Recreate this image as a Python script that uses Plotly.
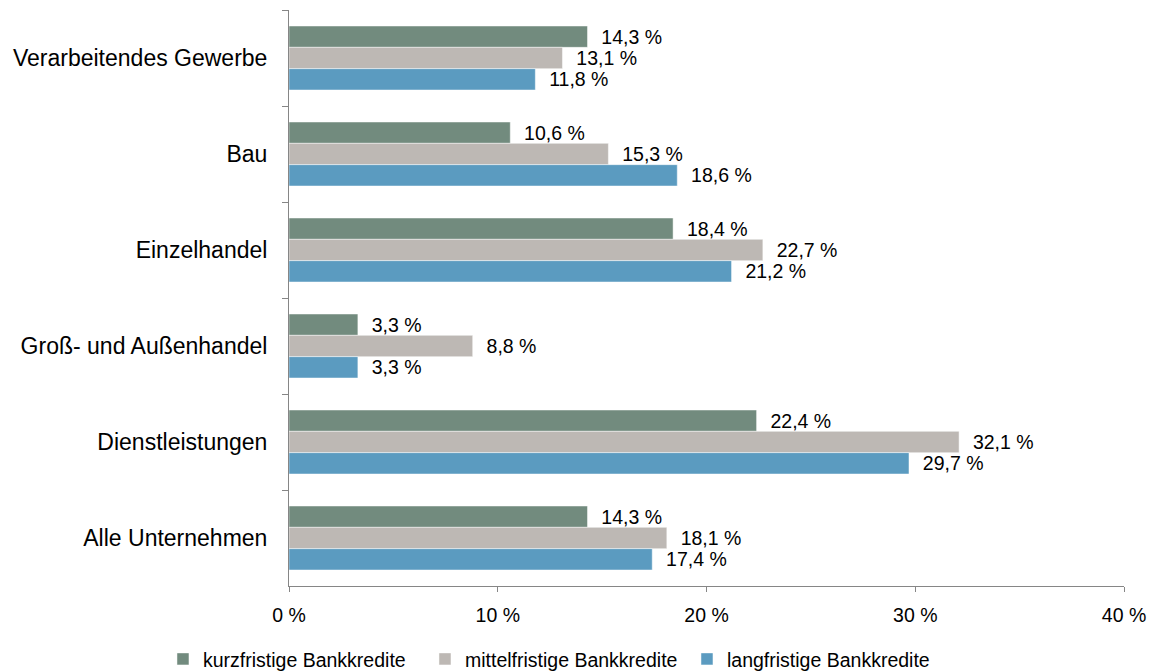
import plotly.graph_objects as go

# Branchen (von oben nach unten) und Anteile je Kreditlaufzeit in Prozent
categories = [
    "Verarbeitendes Gewerbe",
    "Bau",
    "Einzelhandel",
    "Groß- und Außenhandel",
    "Dienstleistungen",
    "Alle Unternehmen",
]
kurzfristig = [14.3, 10.6, 18.4, 3.3, 22.4, 14.3]
mittelfristig = [13.1, 15.3, 22.7, 8.8, 32.1, 18.1]
langfristig = [11.8, 18.6, 21.2, 3.3, 29.7, 17.4]

series_names = [
    "kurzfristige Bankkredite",
    "mittelfristige Bankkredite",
    "langfristige Bankkredite",
]
series_values = [kurzfristig, mittelfristig, langfristig]
series_colors = ["#728B7E", "#BDB8B4", "#5B9BC0"]

x_ticks = [0, 10, 20, 30, 40]

FONT = "Liberation Sans, Arial, sans-serif"
AXIS_GREY = "#868686"


def fmt(v):
    return f"{v:.1f}".replace(".", ",") + " %"


fig = go.Figure()
for name, vals, color in zip(series_names, series_values, series_colors):
    fig.add_trace(
        go.Bar(
            name=name,
            y=categories,
            x=vals,
            orientation="h",
            marker=dict(color=color, line=dict(color="rgba(255,255,255,0.6)", width=0.8)),
            text=["\u00a0\u00a0" + fmt(v) for v in vals],
            textposition="outside",
            constraintext="none",
            cliponaxis=False,
            textfont=dict(family=FONT, size=19.5, color="#000000"),
            hoverinfo="skip",
        )
    )

fig.update_layout(
    width=1160,
    height=672,
    margin=dict(l=289, r=36, t=10, b=86, autoexpand=False),
    paper_bgcolor="white",
    plot_bgcolor="white",
    barmode="group",
    bargap=1 / 3,
    bargroupgap=0,
    font=dict(family=FONT, size=19.5, color="#000000"),
    showlegend=True,
    legend=dict(
        orientation="h",
        xref="container",
        yref="container",
        x=0.1405,
        xanchor="left",
        y=0.019,
        yanchor="middle",
        entrywidth=217,
        font=dict(family=FONT, size=19.5, color="#000000"),
        itemclick=False,
        itemdoubleclick=False,
        traceorder="normal",
    ),
)

fig.update_xaxes(
    range=[0, 40],
    tickvals=x_ticks,
    ticktext=[f"{t} %" for t in x_ticks],
    showgrid=False,
    zeroline=False,
    showline=True,
    linecolor=AXIS_GREY,
    linewidth=1,
    ticks="outside",
    ticklen=5,
    tickcolor=AXIS_GREY,
    tickfont=dict(family=FONT, size=19.5, color="#000000"),
    ticklabelstandoff=7,
    fixedrange=True,
)

fig.update_yaxes(
    categoryorder="array",
    categoryarray=categories,
    autorange="reversed",
    showgrid=False,
    zeroline=False,
    showline=True,
    linecolor=AXIS_GREY,
    linewidth=1,
    ticks="outside",
    tickson="boundaries",
    ticklen=6,
    tickcolor=AXIS_GREY,
    tickfont=dict(family=FONT, size=23, color="#000000"),
    ticklabelstandoff=16,
    fixedrange=True,
)

fig.write_html("out.html", config={"displayModeBar": False})
